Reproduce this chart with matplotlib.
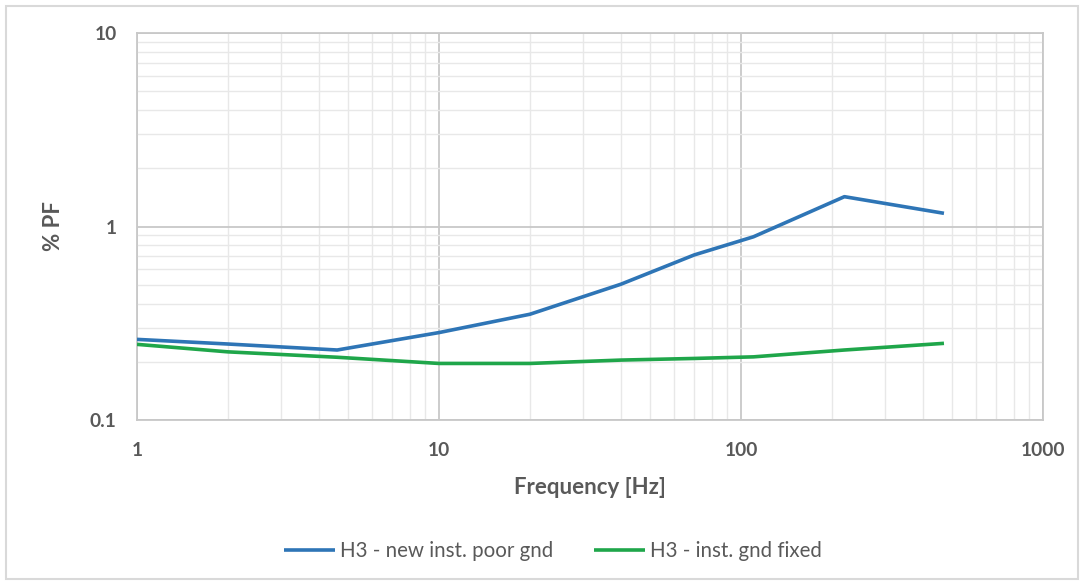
import matplotlib
matplotlib.use("Agg")
import matplotlib.pyplot as plt
from matplotlib.patches import Rectangle
from matplotlib.ticker import LogLocator, FixedLocator, FixedFormatter, NullFormatter

plt.rcParams['font.family'] = ['Lato', 'DejaVu Sans']

freq_hz = [1, 2, 4.6, 10, 20, 40, 70, 110, 220, 470]
pf_poor_gnd = [0.261, 0.247, 0.230, 0.283, 0.352, 0.503, 0.713, 0.885, 1.426, 1.17]
pf_gnd_fixed = [0.246, 0.225, 0.211, 0.196, 0.196, 0.204, 0.208, 0.212, 0.230, 0.249]

series_labels = ["H3 - new inst. poor gnd", "H3 - inst. gnd fixed"]
series_colors = ["#2E75B6", "#1FA64A"]
x_ticks = [1, 10, 100, 1000]
x_tick_labels = ["1", "10", "100", "1000"]
y_ticks = [0.1, 1, 10]
y_tick_labels = ["0.1", "1", "10"]

text_color = "#595959"

fig = plt.figure(figsize=(10.84, 5.85), dpi=100)
fig.patch.set_facecolor("white")

# outer chart frame
frame = Rectangle((6 / 1084, 6 / 585), 1072 / 1084, 573 / 585,
                  transform=fig.transFigure, facecolor="none",
                  edgecolor="#D9D9D9", linewidth=1.5)
fig.patches.append(frame)

ax = fig.add_axes([137 / 1084, 1 - 420 / 585, (1043 - 137) / 1084, (420 - 33) / 585])
ax.set_xscale("log")
ax.set_yscale("log")
ax.set_xlim(1, 1000)
ax.set_ylim(0.1, 10)

ax.plot(freq_hz, pf_poor_gnd, color=series_colors[0], lw=2.6,
        label=series_labels[0], zorder=3, solid_capstyle="butt")
ax.plot(freq_hz, pf_gnd_fixed, color=series_colors[1], lw=2.6,
        label=series_labels[1], zorder=3, solid_capstyle="butt")

ax.xaxis.set_major_locator(FixedLocator(x_ticks))
ax.xaxis.set_major_formatter(FixedFormatter(x_tick_labels))
ax.yaxis.set_major_locator(FixedLocator(y_ticks))
ax.yaxis.set_major_formatter(FixedFormatter(y_tick_labels))
ax.xaxis.set_minor_locator(LogLocator(base=10, subs=range(2, 10)))
ax.yaxis.set_minor_locator(LogLocator(base=10, subs=range(2, 10)))
ax.xaxis.set_minor_formatter(NullFormatter())
ax.yaxis.set_minor_formatter(NullFormatter())

ax.grid(which="major", color="#C8C8C8", lw=1.3, zorder=1)
ax.grid(which="minor", color="#E8E8E8", lw=1.0, zorder=1)
ax.set_axisbelow(True)

ax.tick_params(which="both", length=0)
ax.tick_params(axis="x", pad=16, labelsize=13.8, labelcolor=text_color)
ax.tick_params(axis="y", pad=14.5, labelsize=13.8, labelcolor=text_color)
for lbl in ax.get_xticklabels() + ax.get_yticklabels():
    lbl.set_fontweight("bold")

for sp in ax.spines.values():
    sp.set_color("#C8C8C8")
    sp.set_linewidth(1.3)

ax.set_xlabel("Frequency [Hz]", fontsize=16, fontweight="bold",
              color=text_color, va="center")
ax.set_ylabel("% PF", fontsize=16, fontweight="bold",
              color=text_color, va="center")
ax.xaxis.set_label_coords(0.5, (420 - 487) / 387)
ax.yaxis.set_label_coords((53 - 137) / 906, 0.5)

leg = fig.legend(loc="center", bbox_to_anchor=(553 / 1084, 1 - 551 / 585),
                 ncol=2, frameon=False, fontsize=14.8, handlelength=2.45,
                 columnspacing=2.0, handletextpad=0.25)
for t in leg.get_texts():
    t.set_color(text_color)

fig.savefig("out.png", dpi=100, facecolor="white")
